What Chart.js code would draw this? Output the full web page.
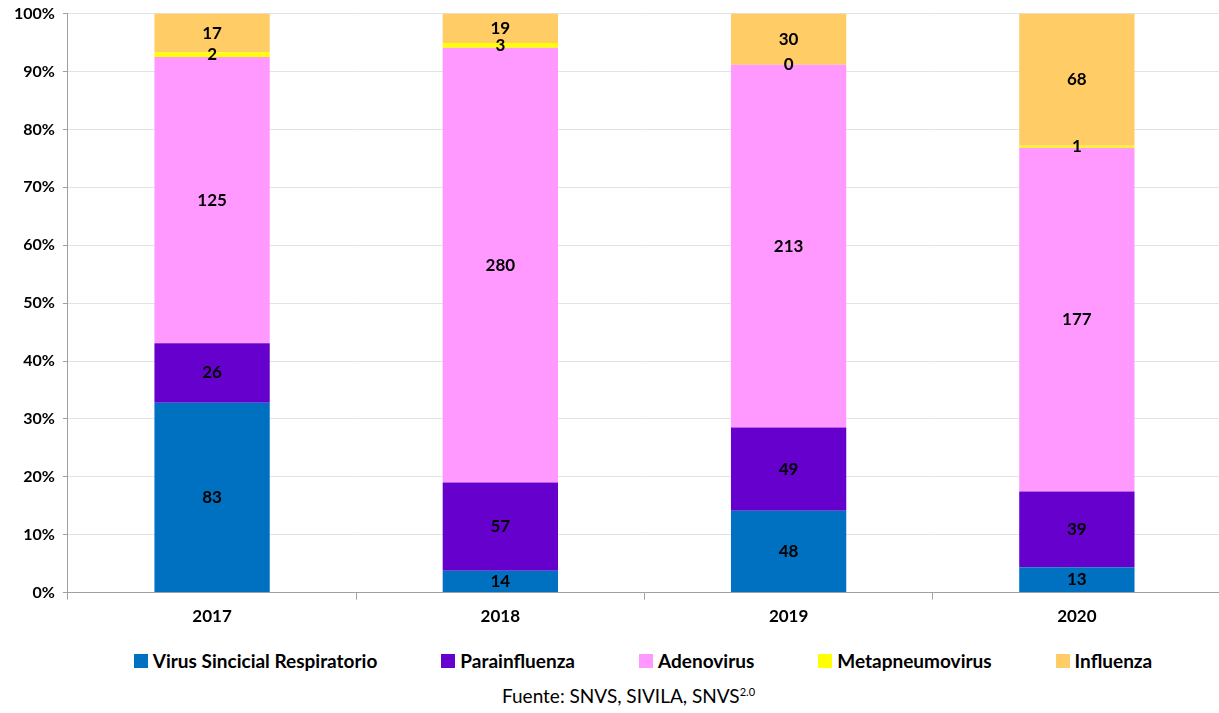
<!DOCTYPE html>
<html lang="es">
<head>
<meta charset="UTF-8">
<title>Virus respiratorios por año</title>
<script src="https://cdn.jsdelivr.net/npm/chart.js"></script>
<style>
    body { margin: 0; background: #fff; font-family: Lato, "Open Sans", sans-serif; }
    #wrap { position: relative; width: 1219px; height: 713px; overflow: hidden; }
    #chart { position: absolute; left: 0; top: -4px; }
    #leyenda { position: absolute; left: 0; width: 1286px; top: 649px; display: flex; justify-content: center; gap: 64px;
               font-size: 19px; font-weight: bold; color: #000; }
    #leyenda span { display: flex; align-items: center; }
    #leyenda i { display: inline-block; width: 14px; height: 14px; margin-right: 5px; }
    #fuente { position: absolute; left: 0; width: 1257px; top: 684px; text-align: center; font-size: 19px; color: #000; }
    #fuente sup { font-size: 11px; }
</style>
</head>
<body>
<div id="wrap">
    <canvas id="chart" width="1221" height="642"></canvas>
    <div id="leyenda"></div>
    <div id="fuente">Fuente: SNVS, SIVILA, SNVS<sup>2.0</sup></div>
</div>
<script>
    const years = ["2017", "2018", "2019", "2020"];
    const vsr = [83, 14, 48, 13];
    const parainfluenza = [26, 57, 49, 39];
    const adenovirus = [125, 280, 213, 177];
    const metapneumovirus = [2, 3, 0, 1];
    const influenza = [17, 19, 30, 68];
    const yTicks = [0, 10, 20, 30, 40, 50, 60, 70, 80, 90, 100];

    const series = [
        { name: "Virus Sincicial Respiratorio", counts: vsr, color: "#0070C0" },
        { name: "Parainfluenza", counts: parainfluenza, color: "#6600CC" },
        { name: "Adenovirus", counts: adenovirus, color: "#FF99FF" },
        { name: "Metapneumovirus", counts: metapneumovirus, color: "#FFFF00" },
        { name: "Influenza", counts: influenza, color: "#FFCC66" }
    ];

    // total de casos por año, para apilar al 100%
    const totals = years.map((_, i) => series.reduce((s, d) => s + d.counts[i], 0));

    const datasets = series.map(d => ({
        label: d.name,
        counts: d.counts,
        data: d.counts.map((v, i) => v / totals[i] * 100),
        backgroundColor: d.color,
        borderWidth: 0,
        barPercentage: 0.4,
        categoryPercentage: 1
    }));

    // numeros dentro de cada segmento
    const etiquetas = {
        id: "etiquetas",
        afterDatasetsDraw(chart) {
            const ctx = chart.ctx;
            ctx.save();
            ctx.font = "bold 17px Lato";
            ctx.fillStyle = "#000";
            ctx.textAlign = "center";
            ctx.textBaseline = "middle";
            chart.data.datasets.forEach((ds, di) => {
                chart.getDatasetMeta(di).data.forEach((bar, i) => {
                    ctx.fillText(ds.counts[i], bar.x, (bar.y + bar.base) / 2);
                });
            });
            ctx.restore();
        }
    };

    const chart = new Chart(document.getElementById("chart"), {
        type: "bar",
        data: { labels: years, datasets: datasets },
        plugins: [etiquetas],
        options: {
            responsive: false,
            animation: false,
            layout: { padding: { top: 0, left: 6, right: 0, bottom: 4 } },
            plugins: {
                tooltip: { enabled: false },
                legend: { display: false }
            },
            scales: {
                x: {
                    stacked: true,
                    grid: { drawOnChartArea: false, drawTicks: true, tickLength: 7, tickColor: "#a0a0a0" },
                    border: { color: "#a0a0a0", width: 1 },
                    ticks: { color: "#000", font: { family: "Lato", size: 17, weight: "bold" }, padding: 7 }
                },
                y: {
                    stacked: true,
                    min: 0,
                    max: 100,
                    afterBuildTicks: axis => { axis.ticks = yTicks.map(v => ({ value: v })); },
                    grid: { color: "#e3e3e3", tickLength: 5, tickColor: "#a0a0a0" },
                    border: { color: "#a0a0a0", width: 1 },
                    ticks: {
                        color: "#000",
                        font: { family: "Lato", size: 16, weight: "bold" },
                        padding: 8,
                        callback: v => v + "%"
                    }
                }
            }
        }
    });

    // leyenda a partir de los mismos datasets
    const leyenda = document.getElementById("leyenda");
    chart.data.datasets.forEach(ds => {
        const item = document.createElement("span");
        item.innerHTML = `<i style="background:${ds.backgroundColor}"></i>${ds.label}`;
        leyenda.appendChild(item);
    });
</script>
</body>
</html>
